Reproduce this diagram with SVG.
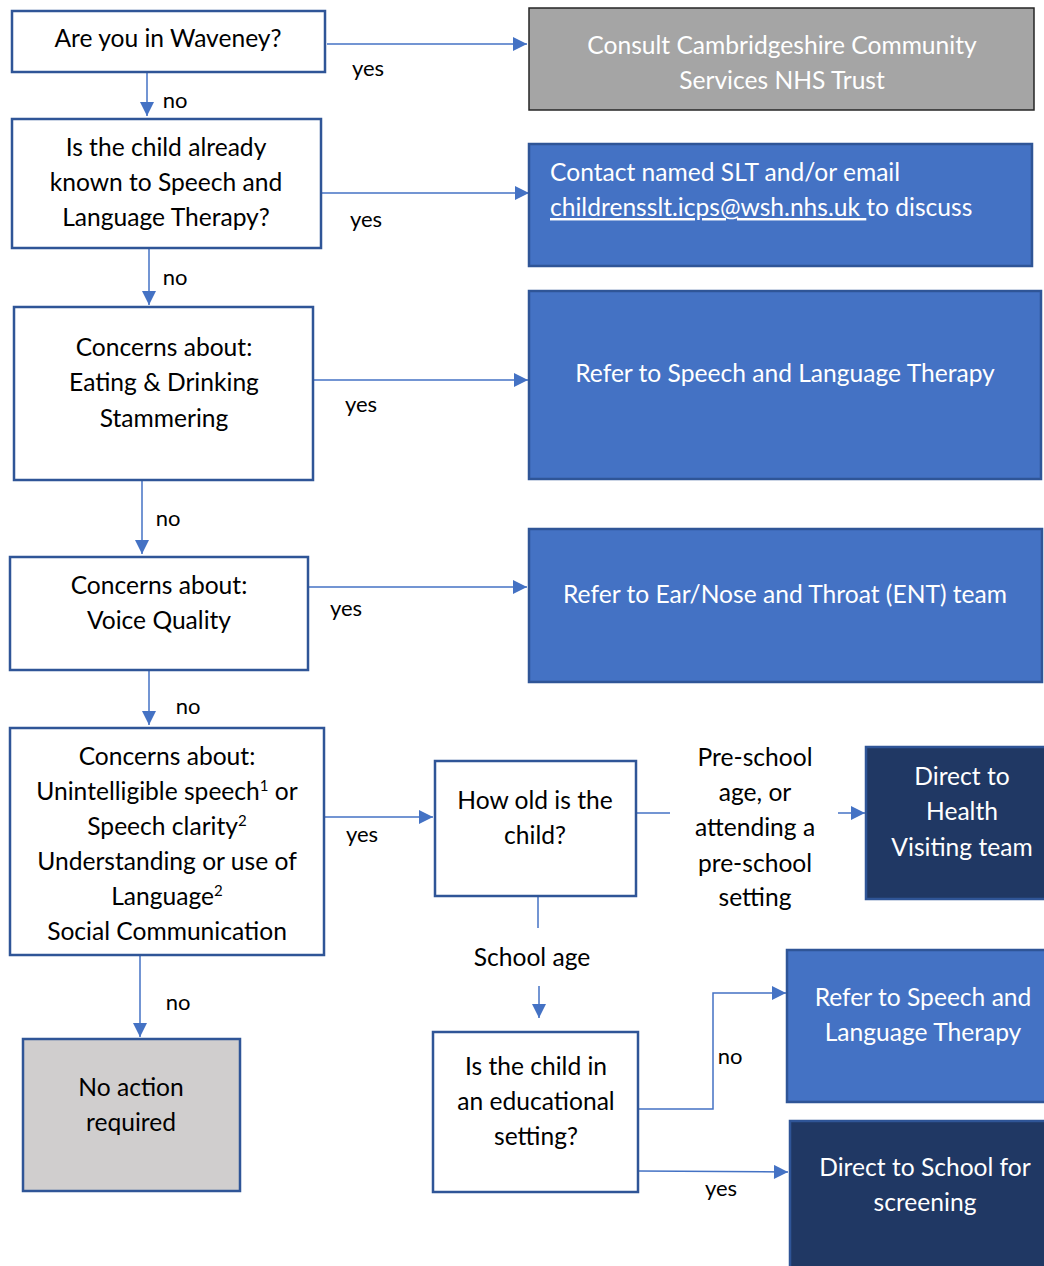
<svg xmlns="http://www.w3.org/2000/svg" width="1044" height="1266" viewBox="0 0 1044 1266">
<style>
text{font-family:Lato,"Open Sans","Liberation Sans",sans-serif;font-size:24.6px;text-anchor:middle}
.q{fill:#fff;stroke:#2F5597;stroke-width:2.5}
.grey{fill:#A5A5A5;stroke:#262626;stroke-width:1.5}
.blue{fill:#4472C4;stroke:#2F5597;stroke-width:2.5}
.dark{fill:#203864;stroke:#2F5597;stroke-width:2.5}
.na{fill:#D0CECE;stroke:#2F5597;stroke-width:2.5}
.k{fill:#000}
.w{fill:#fff}
.c{fill:none;stroke:#4472C4;stroke-width:1.5}
.lbl{fill:#000;font-size:22px}
</style>
<defs>
<marker id="ahb" viewBox="0 0 10 10" refX="10" refY="5" markerWidth="15" markerHeight="14" markerUnits="userSpaceOnUse" orient="auto">
<path d="M0,0 L10,5 L0,10 Z" fill="#4472C4"/>
</marker>
</defs>

<g id="connectors">
<path class="c" d="M327,44 H527" marker-end="url(#ahb)"/>
<path class="c" d="M147,72 V116" marker-end="url(#ahb)"/>
<path class="c" d="M321,193 H529" marker-end="url(#ahb)"/>
<path class="c" d="M149,248 V305" marker-end="url(#ahb)"/>
<path class="c" d="M313,380 H528" marker-end="url(#ahb)"/>
<path class="c" d="M142,480 V554" marker-end="url(#ahb)"/>
<path class="c" d="M308,587 H527" marker-end="url(#ahb)"/>
<path class="c" d="M149,671 V725" marker-end="url(#ahb)"/>
<path class="c" d="M324,817 H433" marker-end="url(#ahb)"/>
<path class="c" d="M636,813 H670"/>
<path class="c" d="M838,813 H865" marker-end="url(#ahb)"/>
<path class="c" d="M538,897 V928"/>
<path class="c" d="M539,986 V1018" marker-end="url(#ahb)"/>
<path class="c" d="M638,1109 H713 V993 H786" marker-end="url(#ahb)"/>
<path class="c" d="M638,1171 L788,1172" marker-end="url(#ahb)"/>
<path class="c" d="M140,955 V1037" marker-end="url(#ahb)"/>
<text class="lbl" x="368" y="76">yes</text>
<text class="lbl" x="175" y="108">no</text>
<text class="lbl" x="366" y="227">yes</text>
<text class="lbl" x="175" y="285">no</text>
<text class="lbl" x="361" y="412">yes</text>
<text class="lbl" x="168" y="526">no</text>
<text class="lbl" x="346" y="616">yes</text>
<text class="lbl" x="188" y="714">no</text>
<text class="lbl" x="362" y="842">yes</text>
<text class="lbl" x="178" y="1010">no</text>
<text class="lbl" x="730" y="1064">no</text>
<text class="lbl" x="721" y="1196">yes</text>
</g>

<g id="n-waveney">
<rect class="q" x="12" y="11" width="313" height="61"/>
<text class="k" x="168" y="47">Are you in Waveney?</text>
</g>
<g id="n-consult">
<rect class="grey" x="529" y="8" width="505" height="102"/>
<text class="w" x="782" y="54">Consult Cambridgeshire Community</text>
<text class="w" x="782" y="89">Services NHS Trust</text>
</g>
<g id="n-known">
<rect class="q" x="12" y="119" width="309" height="129"/>
<text class="k" x="166" y="156">Is the child already</text>
<text class="k" x="166" y="191">known to Speech and</text>
<text class="k" x="166" y="226">Language Therapy?</text>
</g>
<g id="n-contact">
<rect class="blue" x="529" y="144" width="503" height="122"/>
<text class="w" x="550" y="181" style="text-anchor:start">Contact named SLT and/or email</text>
<text class="w" x="550" y="216" style="text-anchor:start"><tspan text-decoration="underline">childrensslt.icps@wsh.nhs.uk </tspan>to discuss</text>
</g>
<g id="n-eating">
<rect class="q" x="14" y="307" width="299" height="173"/>
<text class="k" x="164" y="356">Concerns about:</text>
<text class="k" x="164" y="391">Eating &amp; Drinking</text>
<text class="k" x="164" y="427">Stammering</text>
</g>
<g id="n-refer1">
<rect class="blue" x="529" y="291" width="512" height="188"/>
<text class="w" x="785" y="382">Refer to Speech and Language Therapy</text>
</g>
<g id="n-voice">
<rect class="q" x="10" y="557" width="298" height="113"/>
<text class="k" x="159" y="594">Concerns about:</text>
<text class="k" x="159" y="629">Voice Quality</text>
</g>
<g id="n-ent">
<rect class="blue" x="529" y="529" width="513" height="153"/>
<text class="w" x="785" y="603">Refer to Ear/Nose and Throat (ENT) team</text>
</g>
<g id="n-speech">
<rect class="q" x="10" y="728" width="314" height="227"/>
<text class="k" x="167" y="765">Concerns about:</text>
<text class="k" x="167" y="800">Unintelligible speech<tspan font-size="15" dy="-9">1</tspan><tspan dy="9"> or</tspan></text>
<text class="k" x="167" y="835">Speech clarity<tspan font-size="15" dy="-9">2</tspan></text>
<text class="k" x="167" y="870">Understanding or use of</text>
<text class="k" x="167" y="905">Language<tspan font-size="15" dy="-9">2</tspan></text>
<text class="k" x="167" y="940">Social Communication</text>
</g>
<g id="n-howold">
<rect class="q" x="435" y="761" width="201" height="135"/>
<text class="k" x="535" y="809">How old is the</text>
<text class="k" x="535" y="844">child?</text>
</g>
<g id="l-preschool">
<text class="k" x="755" y="766">Pre-school</text>
<text class="k" x="755" y="801">age, or</text>
<text class="k" x="755" y="836">attending a</text>
<text class="k" x="755" y="872">pre-school</text>
<text class="k" x="755" y="906">setting</text>
</g>
<g id="n-hv">
<rect class="dark" x="866" y="747" width="180" height="152"/>
<text class="w" x="962" y="785">Direct to</text>
<text class="w" x="962" y="820">Health</text>
<text class="w" x="962" y="856">Visiting team</text>
</g>
<g id="l-schoolage">
<text class="k" x="532" y="966">School age</text>
</g>
<g id="n-edu">
<rect class="q" x="433" y="1032" width="205" height="160"/>
<text class="k" x="536" y="1075">Is the child in</text>
<text class="k" x="536" y="1110">an educational</text>
<text class="k" x="536" y="1145">setting?</text>
</g>
<g id="n-refer2">
<rect class="blue" x="787" y="950" width="259" height="152"/>
<text class="w" x="923" y="1006">Refer to Speech and</text>
<text class="w" x="923" y="1041">Language Therapy</text>
</g>
<g id="n-school">
<rect class="dark" x="790" y="1121" width="256" height="147"/>
<text class="w" x="925" y="1176">Direct to School for</text>
<text class="w" x="925" y="1211">screening</text>
</g>
<g id="n-noaction">
<rect class="na" x="23" y="1039" width="217" height="152"/>
<text class="k" x="131" y="1096">No action</text>
<text class="k" x="131" y="1131">required</text>
</g>
</svg>
